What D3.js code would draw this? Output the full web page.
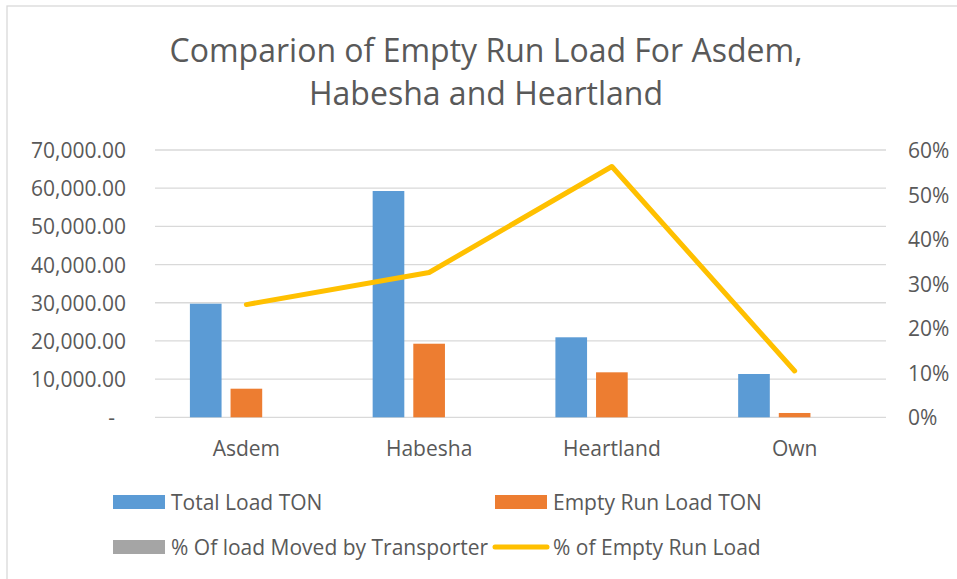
<!DOCTYPE html>
<meta charset="utf-8">

<!-- Load d3.js -->
<script src="https://d3js.org/d3.v7.min.js"></script>

<style>
  body { margin: 0; background: #fff; }
  text { font-family: "Open Sans", sans-serif; fill: #595959; }
</style>

<!-- Create a div where the graph will take place -->
<div id="my_dataviz"></div>

<script>

// data
var categories = ["Asdem", "Habesha", "Heartland", "Own"];
var totalLoad = [29750, 59260, 20950, 11340];
var emptyRunLoad = [7490, 19270, 11780, 1130];
var pctMoved = [0.25, 0.49, 0.17, 0.09];          // on the ton axis, too small to see
var pctEmptyRun = [0.253, 0.325, 0.563, 0.104];

var leftTicks = [0, 10000, 20000, 30000, 40000, 50000, 60000, 70000];
var rightTicks = [0, 0.1, 0.2, 0.3, 0.4, 0.5, 0.6];

var seriesNames = ["Total Load TON", "Empty Run Load TON", "% Of load Moved by Transporter", "% of Empty Run Load"];
var colors = ["#5b9bd5", "#ed7d31", "#a5a5a5", "#ffc000"];

// dimensions
var W = 957, H = 579;
var plot = {left: 155, right: 886, top: 150, bottom: 417.3};

var svg = d3.select("#my_dataviz")
  .append("svg")
    .attr("width", W)
    .attr("height", H);

// chart area border
svg.append("rect")
  .attr("x", 7).attr("y", 6)
  .attr("width", 1000).attr("height", 1000)
  .attr("fill", "#fff")
  .attr("stroke", "#d9d9d9")
  .attr("stroke-width", 1.3);

// Title
var title = svg.append("text")
  .attr("text-anchor", "middle")
  .style("font-size", "32px");
title.append("tspan").attr("x", 486).attr("y", 62).text("Comparion of Empty Run Load For Asdem,");
title.append("tspan").attr("x", 486).attr("y", 105).text("Habesha and Heartland");

// scales
var x0 = d3.scaleBand()
  .domain(categories)
  .range([plot.left, plot.right])
  .paddingInner(0.382)
  .paddingOuter(0.191);

var barKeys = ["total", "empty", "moved"];
var x1 = d3.scaleBand()
  .domain(barKeys)
  .range([0, x0.bandwidth()])
  .paddingInner(0.221);

var yLeft = d3.scaleLinear().domain([0, 70000]).range([plot.bottom, plot.top]);
var yRight = d3.scaleLinear().domain([0, 0.6]).range([plot.bottom, plot.top]);

// gridlines
svg.append("g")
  .selectAll("line")
  .data(leftTicks)
  .enter().append("line")
    .attr("x1", plot.left).attr("x2", plot.right)
    .attr("y1", function(d) { return yLeft(d); })
    .attr("y2", function(d) { return yLeft(d); })
    .attr("stroke", "#d9d9d9")
    .attr("stroke-width", 1.3);

// Left axis
var fmt = d3.format(",.2f");
var leftAxis = svg.append("g")
  .attr("transform", "translate(" + plot.left + ",0)")
  .call(d3.axisLeft(yLeft).tickValues(leftTicks).tickSize(0).tickPadding(29)
    .tickFormat(function(d) { return d === 0 ? "-" : fmt(d); }));
leftAxis.select(".domain").remove();
leftAxis.selectAll("text")
  .style("font-size", "21px")
  .attr("font-family", null)
  .attr("dy", "0.36em")
  .attr("dx", function(d) { return d === 0 ? -11 : 0; });

// Right axis
var rightAxis = svg.append("g")
  .attr("transform", "translate(" + plot.right + ",0)")
  .call(d3.axisRight(yRight).tickValues(rightTicks).tickSize(0).tickPadding(22)
    .tickFormat(d3.format(".0%")));
rightAxis.select(".domain").remove();
rightAxis.selectAll("text")
  .style("font-size", "21px")
  .attr("dy", "0.36em");

// Category axis
var bottomAxis = svg.append("g")
  .attr("transform", "translate(0," + plot.bottom + ")")
  .call(d3.axisBottom(x0).tickSize(0).tickPadding(0));
bottomAxis.select(".domain").remove();
bottomAxis.selectAll("text")
  .style("font-size", "21px")
  .attr("y", 39)
  .attr("dy", 0);

svg.selectAll(".tick text").attr("fill", "#595959");

// Bars
var barData = categories.map(function(c, i) {
  return {cat: c, values: [
    {key: "total", value: totalLoad[i], color: colors[0]},
    {key: "empty", value: emptyRunLoad[i], color: colors[1]},
    {key: "moved", value: pctMoved[i], color: colors[2]}
  ]};
});

svg.append("g")
  .selectAll("g")
  .data(barData)
  .enter().append("g")
    .attr("transform", function(d) { return "translate(" + x0(d.cat) + ",0)"; })
  .selectAll("rect")
  .data(function(d) { return d.values; })
  .enter().append("rect")
    .attr("x", function(d) { return x1(d.key); })
    .attr("y", function(d) { return yLeft(d.value); })
    .attr("width", x1.bandwidth())
    .attr("height", function(d) { return yLeft(0) - yLeft(d.value); })
    .attr("fill", function(d) { return d.color; });

// Line on the secondary axis
var line = d3.line()
  .x(function(d, i) { return x0(categories[i]) + x0.bandwidth() / 2; })
  .y(function(d) { return yRight(d); });

svg.append("path")
  .datum(pctEmptyRun)
  .attr("d", line)
  .attr("fill", "none")
  .attr("stroke", colors[3])
  .attr("stroke-width", 5)
  .attr("stroke-linejoin", "round")
  .attr("stroke-linecap", "round");

// Legend
var legendPos = [
  {x: 113, y: 502},
  {x: 495, y: 502},
  {x: 113, y: 547},
  {x: 495, y: 547}
];

var legend = svg.append("g")
  .selectAll("g")
  .data(seriesNames)
  .enter().append("g")
    .attr("transform", function(d, i) { return "translate(" + legendPos[i].x + "," + legendPos[i].y + ")"; });

legend.each(function(d, i) {
  var g = d3.select(this);
  if (i < 3) {
    g.append("rect")
      .attr("x", 0).attr("y", -7)
      .attr("width", 52).attr("height", 14)
      .attr("fill", colors[i]);
  } else {
    g.append("line")
      .attr("x1", 0).attr("x2", 52)
      .attr("y1", 0).attr("y2", 0)
      .attr("stroke", colors[i])
      .attr("stroke-width", 5)
      .attr("stroke-linecap", "round");
  }
  g.append("text")
    .attr("x", 58)
    .attr("dy", "0.36em")
    .style("font-size", "21px")
    .text(d);
});

</script>
